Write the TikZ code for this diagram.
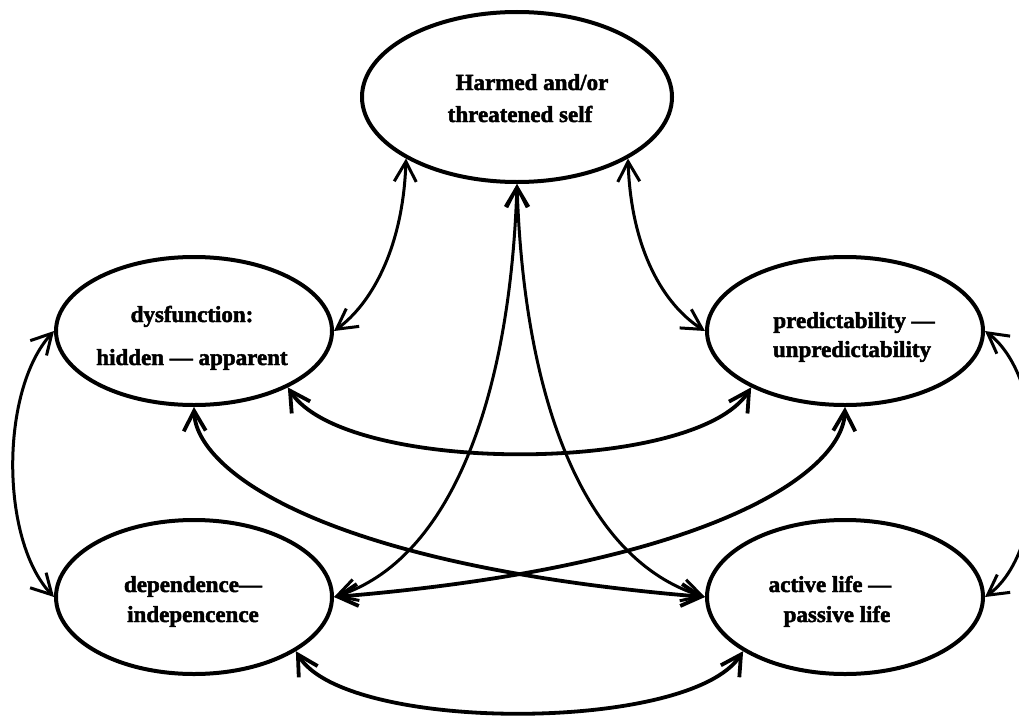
\documentclass[tikz,border=0pt]{standalone}
\usepackage{fontspec}
\setmainfont{Liberation Serif}[BoldFeatures={FakeBold=2}]
\usetikzlibrary{arrows.meta,shapes.geometric}
\tikzset{
  ell/.style={draw, ellipse, line width=4pt, inner sep=0pt},
  lbl/.style={anchor=base, inner sep=0pt, font=\fontsize{23}{28}\selectfont\bfseries},
  tipx/.tip={Straight Barb[length=20pt,width=22pt]},
  conn/.style={line width=3pt, {tipx}-{tipx}},
  heavy/.style={line width=3.8pt, {tipx}-{tipx}},
}
\begin{document}
\begin{tikzpicture}[x=1pt,y=-1pt]
\useasboundingbox (0,0) rectangle (1019,717);
\clip (0,0) rectangle (1019,717);
% ellipses
\node[ell, minimum width=310pt, minimum height=170pt] (T)  at (517,97)  {};
\node[ell, minimum width=276pt, minimum height=148pt] (L)  at (194,331) {};
\node[ell, minimum width=276pt, minimum height=148pt] (R)  at (845,331) {};
\node[ell, minimum width=276pt, minimum height=154pt] (BL) at (194,597) {};
\node[ell, minimum width=276pt, minimum height=154pt] (BR) at (845,597) {};
% labels
\node[lbl] (t1) at (532,90)  {Harmed and/or};
\node[lbl] (t2) at (520,122) {threatened self};
\node[lbl] (l1) at (192,322) {dysfunction:};
\node[lbl] (l2) at (192,365) {hidden — apparent};
\node[lbl] (r1) at (854,328) {predictability —};
\node[lbl] (r2) at (852,357) {unpredictability};
\node[lbl] (b1) at (193,592) {dependence—};
\node[lbl] (b2) at (193,622) {indepencence};
\node[lbl] (c1) at (830,592) {active life —};
\node[lbl] (c2) at (837,622) {passive life};
% connectors
\draw[conn] (T.-151) .. controls (403,250) and (370,305) .. (L.east);
\draw[conn] (T.-29) .. controls (631,250) and (664,305) .. (R.west);
\draw[conn] (T.south) .. controls (510,400) and (450,560) .. (BL.east);
\draw[conn] (T.south) .. controls (524,400) and (584,560) .. (BR.west);
\draw[heavy] (L.-31) .. controls (345,475) and (695,475) .. (R.-149);
\draw[heavy] (L.south) .. controls (196,470) and (320,565) .. (BR.west);
\draw[heavy] (R.south) .. controls (843,470) and (719,565) .. (BL.east);
\draw[conn] (L.west) .. controls (0,390) and (0,540) .. (BL.west);
\draw[conn] (R.east) .. controls (1050,380) and (1050,550) .. (BR.east);
\draw[heavy] (BL.-28) .. controls (345,733) and (690,733) .. (BR.-152);
\end{tikzpicture}
\end{document}
